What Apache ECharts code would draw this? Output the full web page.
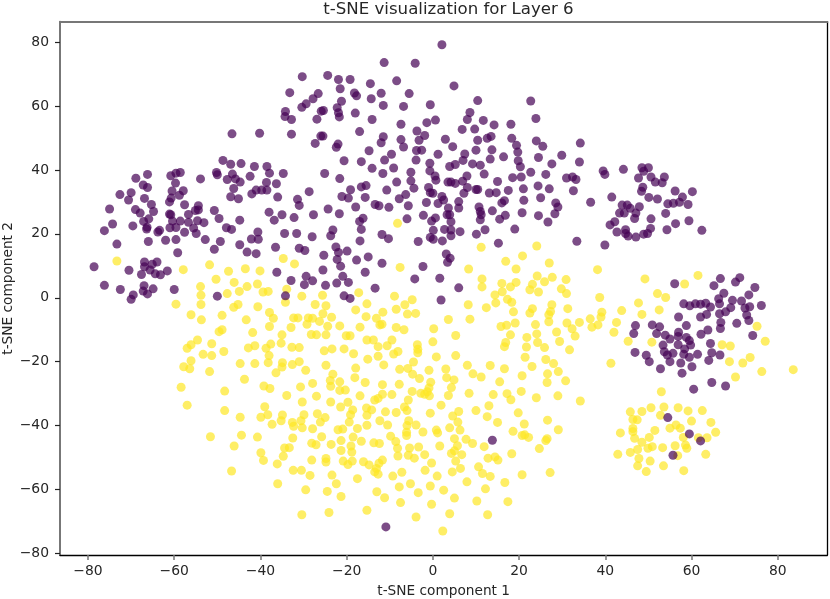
<!DOCTYPE html>
<html><head><meta charset="utf-8">
<script src="https://cdn.jsdelivr.net/npm/echarts@6/dist/echarts.min.js"></script>
<style>html,body{margin:0;padding:0;background:#fff}#c{width:830px;height:599px}</style>
</head><body><div id="c"></div>
<script>
const titleText = 't-SNE visualization for Layer 6';
const xName = 't-SNE component 1';
const yName = 't-SNE component 2';
const xTicks = [-80,-60,-40,-20,0,20,40,60,80];
const yTicks = [-80,-60,-40,-20,0,20,40,60,80];
const classPurple = [
[-30.3,69.2],[-33.2,64.2],[-27.8,62.3],[-26.6,63.9],[-29.4,60.7],[-30.4,59.6],[-34.2,58.3],[-34.3,56.7],[-32.8,55.8],[-26.9,55.9],[-46.6,51.3],[-40.2,51.5],[-32.8,51.2],[-27.3,48.3],[-48.7,43],[-46.9,41.8],[-44.5,42],[-41.4,41.1],[-38.5,41.1],[-37.9,39],[-34.7,38.9],[-50.2,39.2],[-50,38.5],[-46.5,38.7],[-47.7,37],[-45.8,37.2],[-44.7,36.2],[-42.4,38],[-38.6,36.1],[-36.3,35.7],[-46.2,34.2],[-41,33.7],[-39.7,33.7],[-38.5,33.7],[-42,32.5],[-46.9,31.6],[-45.1,31],[-36,31.5],[-28.7,33.2],[-31.4,30.8],[-31,28.9],[-58.6,39.2],[-59.6,39],[-60.8,38.2],[-66.2,38.6],[-68.9,37.4],[-53.9,37.2],[-59.7,35.9],[-67.2,35.3],[-66.2,34.5],[-72.6,32.3],[-70,32.9],[-70.6,30.6],[-60.5,33.4],[-57.9,33.5],[-58.8,32.1],[-60.7,31.2],[-61.1,30],[-66.9,31.1],[-65.3,29.2],[-57.6,29.1],[-54.4,28.8],[-75,27.8],[-69,27.6],[-67.9,26.5],[-64.8,27],[-54.4,27.5],[-55.1,27.3],[-50.7,27.3],[-61.1,26.2],[-60.8,26],[-56.7,26.1],[-49.6,24.8],[-44.8,24.3],[-38,26.8],[-35,26],[-36.8,24.3],[-32.2,25.1],[-27.7,26],[-65.9,24.7],[-67.1,23.9],[-74.3,23.1],[-69.6,22.5],[-76.2,21],[-60.4,24],[-58.6,24],[-56.7,23.6],[-54.6,24.1],[-53.1,23.5],[-66.3,22.1],[-66.4,21.5],[-61,21.9],[-59.6,22],[-55.5,21.8],[-47.9,21.9],[-46.7,21.4],[-57.6,20.5],[-54.9,20.1],[-63.4,21.1],[-63.8,20.6],[-40.6,20.6],[-34.4,20.1],[-31.6,20.1],[-28,19.1],[-42.1,18.4],[-40.5,18.3],[-73.3,16.8],[-66,17.6],[-62,18],[-59.6,18.2],[-52.8,18.2],[-49.3,17.6],[-44.8,16.6],[-50.7,15.2],[-43.1,14.3],[-41,13.8],[-36.5,15.8],[-31,15.5],[-29.7,14.8],[-59.2,14.1],[-66.9,11.2],[-64,11.2],[-65.1,10.5],[-66.9,9.7],[-78.6,9.7],[-70.5,8.6],[-61.6,8.4],[-65.6,8.7],[-67.6,7.3],[-64.4,7.5],[-63.2,7.2],[-76.2,3.9],[-67,3.8],[-72.5,2.6],[-64.9,2.8],[-67.2,2.1],[-66.2,1.2],[-60,2.6],[-69.5,0.9],[-70,-0.5],[-50,0.5],[-36.2,8],[-29.4,6.7],[-32.9,5.4],[-27.9,5.3],[-29.8,4.1],[-34.2,0.6],
[2.1,79.2],[-11.3,73.6],[-4.1,73.4],[-24.4,69.6],[-21.9,68.3],[-19.2,68.3],[-14.5,67],[-8.4,67.9],[4.9,66.3],[-21.5,65.4],[-18.2,64.1],[-17.7,63.2],[-12,64],[-5.5,63.9],[-14.3,62.3],[-21.2,61.5],[10.4,61.7],[22.7,61.6],[-11.5,60.2],[-6.8,59.9],[-0.6,60.4],[-22.2,59.5],[-25.4,58.6],[-25.9,58.4],[-21.9,57.9],[-18,57.8],[-21.7,56.6],[8.6,58],[8,55.8],[11.7,55.5],[23.9,56.1],[-14.1,55.8],[0.6,55.6],[-1.4,54.8],[-7.4,54.3],[14.2,54.1],[18.1,54.3],[6.8,52.7],[9.7,52.8],[-17,52],[-3.7,52.2],[-1.9,50.8],[-25.5,50.6],[-26,50.6],[13.5,50.5],[12.6,49.9],[10.4,49.3],[-11.5,50.4],[-7.4,49.5],[-3.2,49.3],[2.9,49.6],[18.3,49.9],[24,49.1],[-12,48.5],[-22,48.1],[-22.4,47.1],[-6.8,47.2],[4.6,47.3],[19.4,47.7],[25.5,47.4],[-14.8,46],[-3.8,46.1],[-2.6,46.2],[10,46.2],[13.7,46.3],[19.7,45.6],[-9.6,44.9],[1.2,44.9],[7.4,45],[29.9,44.6],[34.2,48.4],[-20.6,42.9],[-16.6,42.6],[-11.2,43.1],[-3.9,43.1],[7,43],[13.3,43.4],[16.4,44.1],[19.8,42.9],[24.5,43.9],[-0.7,42.1],[5.2,41.7],[3.9,41.1],[9.2,41.9],[11,41.5],[20.3,41],[27.6,41.9],[34,42.5],[-14.1,40.5],[-9.1,40.6],[-25.1,38.9],[-11.6,38.9],[-5.1,39.3],[-0.7,39.7],[22.7,39.3],[11.9,38.7],[26.2,38.6],[-21.6,37.3],[0.5,38.1],[0.7,36.8],[7.9,38.1],[18.5,37.6],[20.5,37.8],[31,37.5],[32.4,37.8],[33.2,37],[-5.1,36.6],[-8.4,36.2],[3.5,36.2],[4.2,36.2],[5.2,35.8],[6.9,36.5],[15,36.4],[-15.5,35.1],[-16.6,34.7],[-19.1,33.8],[24.4,35],[8,34.5],[-4.4,34.3],[-1,34.5],[-10.7,33.7],[10,33.9],[10.4,33.9],[17.5,33.6],[21,34.1],[27,34.1],[32.6,33.5],[-0.6,32.9],[0,32.7],[7.2,32.7],[13.1,32.8],[14.7,32.9],[-21.1,31.7],[-19.6,31.2],[-15.7,31.4],[-6.3,32.3],[-7.8,31],[2.1,31.7],[25,31.3],[2.5,30.6],[6,30.1],[-1.5,29.8],[1.2,29.5],[16,29.7],[16.6,30.4],[21.1,30.5],[28.5,29.7],[-13.4,29.2],[-12.5,28.8],[-10.2,28.3],[-5.7,28.8],[-17.9,28.4],[-24.3,27.8],[3.6,28.1],[6,28.1],[10.7,28.4],[29,28.4],[13.8,27.2],[-21.7,26.3],[-2.2,25.8],[3.3,26],[3.9,26],[11,27],[11.2,26],[16.8,25.8],[20.7,26.6],[24.5,25.7],[28.3,26.3],[-16.2,24.9],[-17,23.9],[-6,24.7],[0.6,25],[-0.3,24],[4.2,23.8],[11,24.4],[15.5,24.6],[26.7,23.7],[-16.6,21.4],[-23.2,21.2],[0.1,21.1],[2.7,21.4],[4.2,21.2],[6.3,20.7],[12.1,21.3],[19,21.5],[-23.7,19.4],[-11.8,19.8],[10.1,19.9],[4.2,19.4],[-10.3,18.5],[-0.6,18.9],[0.1,18.3],[2.2,17.8],[-16.9,17.8],[-3.4,17.6],[15.2,17.1],[33.4,17.7],[-22.5,15.9],[-21.9,14.2],[-19.9,14.6],[-25.3,13.3],[-22.2,12],[-15,12.8],[-17.7,11.8],[-11.8,10.8],[3.1,13.7],[4,12.4],[3.4,11.1],[-21.4,9.9],[-2.3,9.8],[-25.5,8.7],[-15.7,8],[-20.9,6.7],[-4.2,5.9],[1.6,6.1],[-22.3,4.6],[-19.6,4.8],[-24.9,3.9],[-13.4,3],[6,3.1],[-20.6,0.6],[-19.2,-0.2],[1.9,-0.7],
[39.5,39.7],[39.9,38.6],[44.2,40.2],[48.5,40.7],[50,40.7],[48.9,39.6],[47.7,37.5],[50.6,37.8],[53.7,37.8],[51.6,36.2],[53.2,36],[48.7,34.6],[48.4,33.3],[56.2,33.4],[60.2,33.2],[50.1,31.4],[52.1,30.9],[41.5,31.5],[57.9,31.5],[36.6,29.9],[43.9,29],[45.1,29],[47.9,28.5],[54.5,29.4],[55.8,29.6],[57.2,29.9],[59.2,29.2],[45.8,28],[47.1,26.5],[43.3,26.5],[44.4,26.5],[54,26.4],[46.8,24.8],[50.6,24.7],[42.2,23.8],[41.1,22.8],[59.4,24.1],[56.3,23.2],[50.5,21.7],[54.3,21.3],[62.4,21.1],[42.7,20.6],[44.7,21.3],[44.7,20.1],[45.3,19.3],[47.1,19],[48.9,19.9],[49.8,20.1],[39.9,16.5],
[66.7,6],[71.2,6.3],[70.2,4.9],[56.1,4.4],[65.2,3.8],[74.7,3.2],[67.5,1.4],[73.3,0.9],[66.3,-0.3],[69.5,-0.8],[71.6,-1],[58.2,-1.9],[59.6,-2.5],[60.9,-1.9],[62.1,-2],[63.3,-1.7],[64.4,-2.9],[66.5,-1.9],[69.1,-3.1],[73.5,-2.8],[76.2,-2.4],[72.4,-3.2],[67.9,-4.4],[63.5,-5.2],[62.1,-6],[66.5,-5],[72.8,-5.4],[57,-6],[73.3,-7.1],[66.8,-7.7],[70.5,-8],[47,-8.7],[50.9,-8.5],[52.6,-9.1],[58.8,-8.7],[66.7,-9.6],[63.8,-10.1],[46.6,-11.2],[51.9,-11.2],[57,-10.8],[62.2,-11.4],[74.2,-11.8],[53.9,-11.7],[55,-12.9],[56.9,-12.1],[58.8,-12.4],[59.5,-13.4],[64.4,-14.3],[53.4,-14.8],[56.9,-14.7],[59.8,-14.8],[58.4,-16],[53.7,-16.9],[55.7,-17.4],[54.4,-17.9],[58.2,-17.7],[61.4,-17.7],[64.7,-17.2],[66.6,-17.9],[46.9,-17.1],[49.5,-18],[59.5,-18.6],[50.2,-20],[55,-20],[57.5,-20.4],[64,-19.6],[60.1,-21.6],[52.8,-22.2],[57.8,-23.6],[64.7,-26.5],[67.9,-27.6],[60.5,-28.6],
[54.5,-37.5],[59.5,-42.6],[62.1,-44.8],[55.7,-49.3],[13.8,-44.6],[-10.9,-71.7]
];
const classYellow = [
[-73.3,11.5],[-57.9,8.8],[-51.8,10.3],[-47.4,8.3],[-43.5,9.1],[-40.1,8.4],[-34.7,12.3],[-32.1,10.6],[-50.3,5.8],[-46.1,4.8],[-43.1,3.5],[-40.7,4.3],[-53.9,3.5],[-44.9,2],[-47.7,1.3],[-53.8,0.8],[-39.4,1.8],[-38.2,2],[-33.9,2.7],[-30.4,0.5],[-34.2,-1.4],[-59.6,-2],[-53.8,-2.1],[-45.2,-2.1],[-46.2,-3],[-40.6,-2.8],[-27.3,-2.1],
[-8.2,23.3],[11.2,15.8],[24.1,16.2],[20.8,13.1],[16.9,11.4],[27,10.9],[19.3,9],[8.3,9],[-7.6,9.5],[24.2,6.8],[27.7,6.4],[11.4,5.9],[30.9,5.7],[16,4.5],[19.3,4.8],[23.1,4.2],[25.9,5],[11.4,3.4],[18,3.4],[22.5,2.5],[29.8,2.8],[16.1,1.9],[24.5,1.8],[31,1.3],[-17.2,1.6],[-25.6,0.8],[-8.9,0.5],[-4.8,-0.6],[14.4,0.9],[17.3,-0.5],[14.6,-1.6],[18.3,-1.4],[-15.3,-1.9],[-6.5,-2.2],[-24.8,-2.5],[8.2,-2.2],[27.6,-2.2],[12.4,-3.1],[23.1,-3.4],[31.3,-3.4],[-17.9,-3.8],[-8.5,-3.6],
[38.2,8.8],[49.2,5.9],[61.5,7],[58.4,4.3],[38.7,0.1],[52.1,1.3],[54,0.1],[47.7,-1.6],[43.8,-4],[52.5,-3.8],[39.2,-4.5],[48.5,-5.2],[39,-6],[36.5,-6.6],[42.6,-7.7],[38.3,-8.5],[36.9,-9.2],[75.2,-8.9],[42,-10.8],[45.3,-13.6],[50.8,-13.9],[77.1,-13.6],[67.1,-14.7],[69,-15.1],[73.6,-18.7],[68.8,-20],[71.9,-20.4],[41.3,-20.5],[76.3,-23.1],[83.6,-22.5],[70.2,-24.8],[53,-29.4],[50.6,-34.4],[53.6,-34.2],[56.9,-34.4],[45.8,-35.7],[48.5,-35.6],[59.2,-35.4],[62.5,-35.3],[52.8,-36.8],[46.4,-38.1],[47.4,-38.2],[60,-38.6],[64.5,-39],[56.4,-39.8],[55,-40.8],[57.4,-40.8],[46.4,-40.9],[51.5,-41.5],[43.5,-42.3],[46.4,-41.9],[65.6,-42.1],[46.8,-44],[50.2,-43.7],[58.1,-43.7],[61.6,-43.8],[63.6,-43.8],[48.5,-45.2],[56.2,-46.3],[58.6,-46.1],[50.9,-46.6],[53.3,-46.9],[49.9,-47.1],[47.5,-47.5],[58.9,-47.1],[42.9,-49],[45.8,-48.4],[63.3,-49],[56.8,-49.4],[47.8,-50.3],[50.4,-51.1],[47.5,-52.6],[53.5,-52.6],[58.2,-54.1],[49.5,-54.4],
[-37.9,-4.6],[-56.1,-5.3],[-53.7,-6.9],[-48.9,-5.5],[-43.3,-6.9],[-37,-6.4],[-15.5,-5.9],[-13.1,-6.4],[-25.5,-5],[-23.5,-6.1],[-32.3,-6.3],[-31.3,-6.3],[-28.9,-6.3],[-27.9,-6.4],[-26.3,-7.4],[-29.2,-8.3],[-24.4,-8.9],[-32.9,-9.3],[-37.9,-9],[-21.6,-8.8],[-16.9,-9.2],[-12.3,-8.5],[-48.9,-10],[-49.6,-10.6],[-41.8,-10.9],[-35,-11.6],[-28.2,-11.5],[-27,-11.6],[-24.8,-11.6],[-20.1,-11.9],[-19.2,-11.9],[-54.6,-13.2],[-51.3,-14.4],[-56.1,-14.7],[-57,-15.8],[-15.3,-13.2],[-13.8,-13.2],[-35.2,-14.2],[-37.6,-14.5],[-41.3,-15],[-42.8,-15.7],[-38.7,-15.8],[-32.7,-15.5],[-31,-15.6],[-25.2,-16.6],[-23.4,-16],[-20.6,-16],[-18.4,-17.5],[-12.7,-15.3],[-53.3,-17.7],[-48.5,-16.8],[-51.3,-18.1],[-38,-18.1],[-15.1,-19.2],[-12.7,-18.3],[-56.1,-19.7],[-57.8,-21.6],[-56.4,-22.2],[-51.8,-23.1],[-44.7,-20.6],[-41.3,-20.6],[-38.2,-20.3],[-34.9,-20.3],[-35,-21.7],[-32.6,-20.9],[-31,-20],[-29.5,-22.7],[-36.4,-23.5],[-24.8,-21.1],[-17.9,-22],[-23.2,-23.9],[-18.1,-25],[-43.7,-25.5],[-23.8,-25.9],[-21.6,-26.3],[-27.9,-26.8],[-15.7,-26.5],[-23.7,-27.7],[-58.4,-28],[-39.2,-27.6],[-37.8,-28.4],[-30.7,-27.9],[-21.6,-29],[-20.3,-28.9],[-48.3,-29.2],[-33.9,-30.6],[-27,-30.8],[-16.9,-30.7],[-13.5,-32],[-12.7,-31.5],[-30.3,-32.6],[-23.7,-32.6],[-19.7,-32.7],[-57,-33.6],[-21.4,-34.2],[-39,-34.1],[-15.4,-34.5],[-14.2,-35.1],[-48.3,-35.3],[-18.6,-35.1],[-38.3,-36.6],[-26.8,-36.3],[-29.9,-36.6],[-34.9,-36.7],[-44.7,-37.4],[-39.9,-37.4],[-19.1,-36.6],[-15.3,-36.8],[-25,-37.5],[-35.2,-38.5],[-30.6,-38.5],[-32.6,-39],[-26.1,-38.9],[-37.3,-39.6],[-19.4,-38.9],[-32.3,-40.2],[-30.3,-40.7],[-27.9,-41],[-15.3,-39.9],[-17.5,-40.9],[-20.9,-41.1],[-22,-41.3],[-12.3,-38.5],[-44.4,-43],[-40.7,-43.6],[-51.6,-43.5],[-32.5,-43.9],[-25.8,-43.5],[-18.5,-43.6],[-46.1,-46.4],[-28.1,-45.5],[-27.1,-46],[-23.6,-45.9],[-21.3,-44.7],[-16.6,-44.9],[-13.7,-45.4],[-12.4,-45.6],[-33.3,-46.9],[-34.4,-47],[-19,-46.4],[-21.3,-47.8],[-18.8,-48.3],[-39.9,-48.5],[-34.7,-49.6],[-39.3,-50.9],[-28.1,-50.8],[-24.8,-50.3],[-24.8,-51.4],[-20.8,-51.1],[-18.7,-51.1],[-19.7,-52.2],[-16.1,-51.3],[-14.8,-52.3],[-36.1,-52],[-46.7,-54.2],[-32.4,-54],[-30.5,-54],[-28.5,-55.6],[-23.4,-55.5],[-13.1,-53.4],[-13.5,-54.5],[-12.7,-55.2],[-17.5,-56.6],[-36,-58.2],[-22.4,-58.2],[-29.5,-60.1],[-24.5,-60.6],[-13,-60.7],[-21.3,-62.2],[-15.3,-66.5],[-24.1,-67.2],[-30.4,-67.9],
[-11.6,-4.5],[-5.9,-5.1],[-4,-4.9],[18.7,-4.4],[22.5,-4.8],[27.3,-4.3],[26.9,-5.3],[3.6,-6.8],[8.6,-6.7],[-11.8,-8.3],[26.9,-7.5],[31.1,-7.9],[34,-7.7],[19.1,-7.9],[17.1,-8.6],[15.8,-9],[23.8,-8.4],[-8.5,-9.3],[-6.7,-10],[0.2,-9.7],[32.3,-9.7],[5.3,-11.8],[18,-11.6],[24.1,-11.3],[28.7,-10.7],[33,-12],[21.8,-12.4],[-9.5,-13.2],[0,-13.8],[16.9,-14],[24.3,-14],[29.4,-13.7],[16.6,-15.3],[21.7,-15.4],[25.9,-15.6],[-3.6,-14.7],[-3.5,-16.1],[-3.5,-17.2],[-10.6,-15],[-8.1,-16.8],[-9.1,-17.6],[31.7,-16.3],[5.3,-18.1],[0.8,-18.5],[21.4,-18.6],[26.2,-19.3],[28,-20.6],[-4.5,-20.1],[-11.4,-21],[-7.7,-22.4],[-5.8,-22.1],[-0.9,-22.7],[3,-22.3],[8,-21.1],[13.3,-21.2],[16.6,-22.2],[23,-21.5],[-4.7,-23.9],[-3.1,-25.3],[3.2,-25],[4.9,-25.7],[9.3,-23.8],[11.2,-24.8],[20.7,-24.4],[26.6,-23.8],[29.1,-23.1],[15.5,-26.3],[30.8,-26],[26.5,-26.5],[-11.7,-27.2],[-7.8,-27.1],[-0.5,-26.4],[4.3,-28.1],[-0.9,-28.2],[-1.3,-29.4],[-4.8,-29.3],[-2.8,-29.9],[-1.9,-30.2],[-0.8,-30.7],[3.6,-30.6],[8.4,-29.9],[14,-30.3],[17.2,-30],[20.5,-29.3],[18.1,-31.9],[24,-31.3],[29,-30.7],[34.2,-32.3],[-11.7,-30.2],[-9.5,-30.3],[-5.7,-32],[1.9,-33.6],[13,-33.8],[-6.6,-34.2],[-6,-35.3],[6,-35.6],[10,-35.3],[19.8,-36],[-11,-35.7],[-8.5,-35.9],[-0.6,-36.1],[4.6,-37],[12.6,-37.2],[-5.6,-38.5],[5.8,-38.9],[15,-39],[26.6,-38.3],[-10.5,-39.8],[-3.9,-39.8],[21.2,-39.5],[-6,-40],[3.9,-40.7],[6.3,-41.4],[29.1,-41.3],[-2.3,-42],[0.8,-41.4],[1.1,-42.3],[-6.1,-42.1],[18.6,-41.8],[-9.8,-43.3],[-6.1,-43.1],[20.7,-43.1],[21.3,-42.9],[22.2,-43.7],[5,-44.1],[7.7,-44.3],[26.5,-44.1],[26.2,-44.7],[-8.6,-45],[9.2,-45.6],[-8.2,-47.1],[-3.3,-46.7],[1.6,-46.4],[5.7,-46.3],[11.9,-46.6],[-5.4,-47],[24.7,-47.2],[4.3,-48.7],[5,-47.9],[6.7,-49.1],[-1.9,-49.1],[-8.1,-49.5],[-5.7,-49.3],[-4.3,-50.2],[18.3,-48.8],[12.8,-50.2],[14.4,-49.8],[15.1,-50.8],[5.3,-51.1],[-11.7,-50.8],[-12.5,-51.8],[-0.3,-51.7],[10.6,-52.9],[6.4,-53.4],[-1.8,-54],[4.5,-54.5],[11.5,-55],[-7.2,-54.6],[-9.3,-55.8],[1,-55.8],[13.3,-55.9],[20.7,-55.4],[27.2,-54.7],[7.9,-57.6],[16.7,-57.8],[-7.8,-59.2],[-5.2,-58.2],[-0.6,-58.9],[2.5,-60.2],[12.2,-59.8],[-3.4,-61],[-11.2,-62.6],[5,-62.7],[10.2,-63.6],[17.4,-63.8],[-7.5,-64.1],[-0.3,-64.6],[3.9,-67.6],[12.7,-67.9],[-3.9,-68.6],[2.3,-73]
];
const font = 'DejaVu Sans';
const ink = '#262626';
const chart = echarts.init(document.getElementById('c'), null, {renderer:'canvas'});
const xr = {min:-86.5,max:91.5}, yr = {min:-80.5,max:86.4};
const hidden = {axisLabel:{show:false},axisTick:{show:false},splitLine:{show:false}};
chart.setOption({
  animation:false,
  backgroundColor:'#fff',
  title:{text:titleText,left:443.5,textAlign:'center',top:-4,textStyle:{fontFamily:font,fontWeight:'normal',fontSize:16.6,color:ink}},
  grid:{left:60,top:21.7,width:767.3,height:533.3,containLabel:false,outerBoundsMode:'none'},
  xAxis:[
    {type:'value',...xr,position:'bottom',name:xName,nameLocation:'middle',nameGap:29,nameMoveOverlap:false,
     nameTextStyle:{fontFamily:font,fontSize:13.7,color:ink},
     axisLine:{onZero:false,lineStyle:{color:'#000',width:1.3}},
     axisTick:{show:true,length:5,customValues:xTicks,lineStyle:{color:'#777',width:1.5}},
     axisLabel:{customValues:xTicks,fontFamily:font,fontSize:13.9,color:ink,margin:9,formatter:v=>String(v).replace('-','\u2212')},
     splitLine:{show:false}},
    {type:'value',...xr,position:'top',axisLine:{onZero:false,lineStyle:{color:'#777',width:2}},...hidden}
  ],
  yAxis:[
    {type:'value',...yr,position:'left',name:yName,nameLocation:'middle',nameGap:45,nameMoveOverlap:false,
     nameTextStyle:{fontFamily:font,fontSize:13.7,color:ink},
     axisLine:{onZero:false,lineStyle:{color:'#777',width:2}},
     axisTick:{show:true,length:5,customValues:yTicks,lineStyle:{color:'#222',width:1.2}},
     axisLabel:{customValues:yTicks,fontFamily:font,fontSize:13.9,color:ink,margin:11,formatter:v=>String(v).replace('-','\u2212')},
     splitLine:{show:false}},
    {type:'value',...yr,position:'right',axisLine:{onZero:false,lineStyle:{color:'#000',width:1.3}},...hidden}
  ],
  series:[
    {type:'scatter',data:classYellow,symbolSize:9,silent:true,itemStyle:{color:'#fde725',opacity:0.7}},
    {type:'scatter',data:classPurple,symbolSize:9,silent:true,itemStyle:{color:'#440154',opacity:0.7}}
  ]
});
</script></body></html>
